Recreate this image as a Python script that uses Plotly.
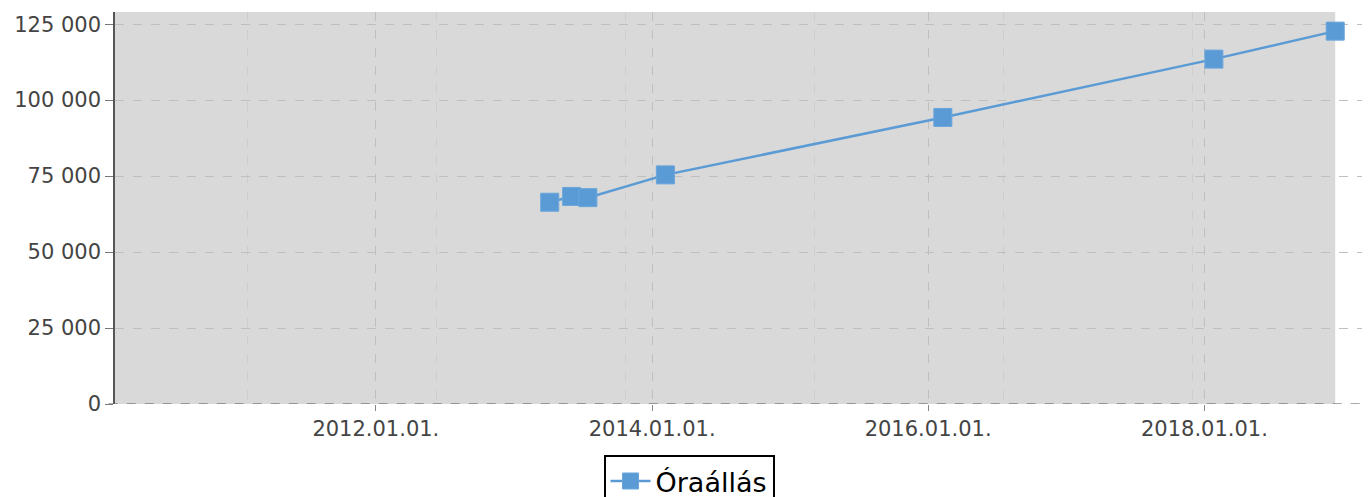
import plotly.graph_objects as go

# Data
dates = ["2013-04-05", "2013-06-02", "2013-07-15", "2014-02-05",
         "2016-02-09", "2018-01-26", "2018-12-13"]
values = [66400, 68300, 67900, 75400, 94300, 113500, 122700]
series_name = "Óraállás"
x_range = ["2010-02-10", "2019-03-15"]
y_range = [0, 129000]
y_ticks = [0, 25000, 50000, 75000, 100000, 125000]

BLUE = "#5b9bd5"
FONT = "DejaVu Sans"

fig = go.Figure()
fig.add_trace(go.Scatter(
    x=dates, y=values, mode="lines+markers", name=series_name,
    line=dict(color=BLUE, width=2.5),
    marker=dict(symbol="square", size=18, color=BLUE,
                line=dict(color="#6aa6dc", width=1)),
    showlegend=True,
))

fig.update_layout(
    width=1362, height=489,
    margin=dict(l=106.5, r=0, t=4, b=92.7, autoexpand=False),
    plot_bgcolor="white", paper_bgcolor="white",
    separators=", ",
    font=dict(family=FONT, size=21, color="#444444"),
    showlegend=True,
    legend=dict(
        orientation="h", xref="container", yref="container",
        x=0.5, xanchor="center", y=0.086, yanchor="top",
        bordercolor="black", borderwidth=2, bgcolor="white",
        itemwidth=40,
        font=dict(family=FONT, size=27, color="black"),
    ),
    xaxis=dict(
        type="date", range=x_range,
        tick0="2012-01-01", dtick="M24", tickformat="%Y.%m.%d.",
        ticks="outside", ticklen=6, tickcolor="#888888",
        showgrid=True, gridcolor="#bfbfbf", griddash="dash", gridwidth=1,
        showline=False, zeroline=False,
        minor=dict(tick0="2011-01-26", dtick=500 * 86400000,
                   showgrid=True, gridcolor="#cdcdcd", griddash="dash",
                   gridwidth=1, ticks=""),
    ),
    yaxis=dict(
        range=y_range, tickvals=y_ticks, tickformat=",d",
        ticks="outside", ticklen=8, tickcolor="#777777",
        showgrid=True, gridcolor="#bfbfbf", griddash="dash", gridwidth=1,
        showline=True, linecolor="#555555", linewidth=1.5,
        zeroline=False,
    ),
)

# shaded background region up to last data point
fig.add_shape(type="rect", xref="x", yref="paper",
              x0=x_range[0], x1=dates[-1], y0=0, y1=1,
              fillcolor="#d9d9d9", line=dict(width=0), layer="below")
# dashed baseline
fig.add_shape(type="line", xref="paper", yref="y",
              x0=-0.005, x1=1, y0=0, y1=0,
              line=dict(color="#555555", width=1.2, dash="dash"), layer="above")

fig.write_html("out.html")
